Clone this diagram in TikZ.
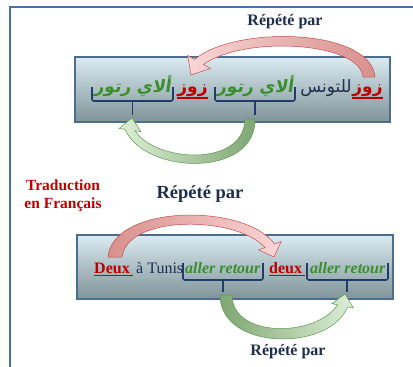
\documentclass[tikz,border=0pt]{standalone}
\usepackage{fontspec}
\setmainfont{Liberation Serif}
\newfontfamily\arabicfont[Script=Arabic]{DejaVu Sans}
\newfontfamily\arabicslant[Script=Arabic,FakeSlant=0.15]{DejaVu Sans}
\TeXXeTstate=1
\definecolor{frameblue}{HTML}{4A72A8}
\definecolor{boxtop}{HTML}{DAEBF1}
\definecolor{boxbot}{HTML}{7F9398}
\definecolor{boxline}{HTML}{4D6D8F}
\definecolor{navy}{HTML}{1F2D4F}
\definecolor{bracecol}{HTML}{1F3C6A}
\definecolor{tred}{HTML}{C00000}
\definecolor{tgreen}{HTML}{3A8E2C}
\definecolor{redline}{HTML}{C0504D}
\definecolor{reddark}{HTML}{D8908D}
\definecolor{redlight}{HTML}{FAD6D6}
\definecolor{greenline}{HTML}{5B9A4A}
\definecolor{greendark}{HTML}{7FA673}
\definecolor{greenlight}{HTML}{DDEFD7}
\tikzset{
  panel/.style={draw=boxline, line width=1.1pt, top color=boxtop, bottom color=boxbot},
  bracket/.style={draw=bracecol, line width=1.6pt, rounded corners=2pt},
  redarrow/.style={draw=redline, line width=0.5pt},
  greenarrow/.style={draw=greenline, line width=0.5pt},
  title/.style={font=\fontsize{16}{19}\selectfont\bfseries, text=navy, inner sep=0},
  word/.style={inner sep=0, anchor=base west},
  arword/.style={inner sep=0, anchor=base},
  uline/.style={line width=1.1pt, draw=tred},
}
\newcommand{\arsz}{\fontsize{17}{20}\selectfont}
\newcommand{\frsz}{\fontsize{16}{19}\selectfont}
\begin{document}
\begin{tikzpicture}[x=1pt,y=-1pt]
\useasboundingbox[fill=white] (0,0) rectangle (413,367);
% frame
\draw[frameblue, line width=1.4pt] (10,367) -- (10,7) -- (413,7);

% ---------- panel 1 ----------
\draw[panel] (75,57) rectangle (390,122);
\node[arword, text=tred] (z1) at (367.5,92) {\arsz\arabicfont\bfseries\beginR زوز\endR};
\node[arword, text=navy] (ton) at (326,92) {\arsz\arabicfont\beginR للتونس\endR};
\node[arword, text=tgreen] (g1) at (255,92) {\arsz\arabicslant\bfseries\beginR ألاي رتور\endR};
\node[arword, text=tred] (z2) at (192.5,92) {\arsz\arabicfont\bfseries\beginR زوز\endR};
\node[arword, text=tgreen] (g2) at (132.5,92) {\arsz\arabicslant\bfseries\beginR ألاي رتور\endR};
\draw[uline] ([yshift=-6pt]z1.base west) -- ([yshift=-6pt]z1.base east);
\draw[uline] ([yshift=-6pt]z2.base west) -- ([yshift=-6pt]z2.base east);
% brackets panel 1
\draw[bracket] (92,87) -- (92,101) -- (173,101) -- (173,87);
\draw[bracket] (132.5,101) -- (132.5,115);
\draw[bracket] (215,87) -- (215,101) -- (295,101) -- (295,87);
\draw[bracket] (255,101) -- (255,115);

% red arrow panel 1
\draw[redarrow, left color=redlight, right color=reddark]
  (363,77) .. controls (360,42) and (245,35) .. (203.4,64.5)
  -- (210.3,68.5) -- (191,75) -- (187.7,55.5) -- (194.6,59.5)
  .. controls (235,25) and (371,28) .. (375,77) -- cycle;
% green arrow panel 1
\draw[greenarrow, left color=greenlight, right color=greendark]
  (255,119) .. controls (256,178) and (145,175) .. (125,129.25)
  -- (119.1,128.4) -- (132,118) -- (140.9,131.6) -- (135,130.75)
  .. controls (155,162) and (244,168) .. (245,119) -- cycle;

\node[title] (r1) at (285,22) {Répété par};

% ---------- middle texts ----------
\node[inner sep=0, align=center, text=tred, font=\fontsize{15.5}{18}\selectfont\bfseries] (trad) at (63,196) {Traduction\\en Français};
\node[title, font=\fontsize{18.5}{22}\selectfont\bfseries] (r2) at (200,194) {Répété par};

% ---------- panel 2 ----------
\draw[panel] (77,235) rectangle (393,299);
\node[word, text=tred, font=\frsz\bfseries] (d1) at (94,273) {Deux};
\node[word, text=navy, font=\frsz] (tun) at (136,273) {à Tunis};
\node[word, text=tgreen, font=\frsz\bfseries\itshape] (a1) at (185,273) {aller retour};
\node[word, text=tred, font=\frsz\bfseries] (d2) at (269,273) {deux};
\node[word, text=tgreen, font=\frsz\bfseries\itshape] (a2) at (310,273) {aller retour};
\draw[uline] ([yshift=-2.5pt]d1.base west) -- ([yshift=-2.5pt,xshift=3pt]d1.base east);
\draw[uline] ([yshift=-2.5pt]d2.base west) -- ([yshift=-2.5pt,xshift=3pt]d2.base east);
% brackets panel 2
\draw[bracket] (183,263) -- (183,280) -- (263,280) -- (263,263);
\draw[bracket] (223,280) -- (223,292);
\draw[bracket] (307,263) -- (307,280) -- (388,280) -- (388,263);
\draw[bracket] (347,280) -- (347,292);

% red arrow panel 2
\draw[redarrow, left color=reddark, right color=redlight]
  (108,257) .. controls (113,204) and (245,203) .. (274.5,244)
  -- (281.1,241.5) -- (274,257) -- (258.5,249.9) -- (265.1,247.5)
  .. controls (235,215) and (127,215) .. (122,257) -- cycle;
% green arrow panel 2
\draw[greenarrow, left color=greendark, right color=greenlight]
  (220,295) .. controls (220,351) and (330,352) .. (347.5,306.8)
  -- (353.4,308) -- (345,294) -- (331.8,303.6) -- (337.7,304.8)
  .. controls (315,338) and (232,338) .. (232,295) -- cycle;

\node[title] (r3) at (288,352) {Répété par};
\end{tikzpicture}
\end{document}
